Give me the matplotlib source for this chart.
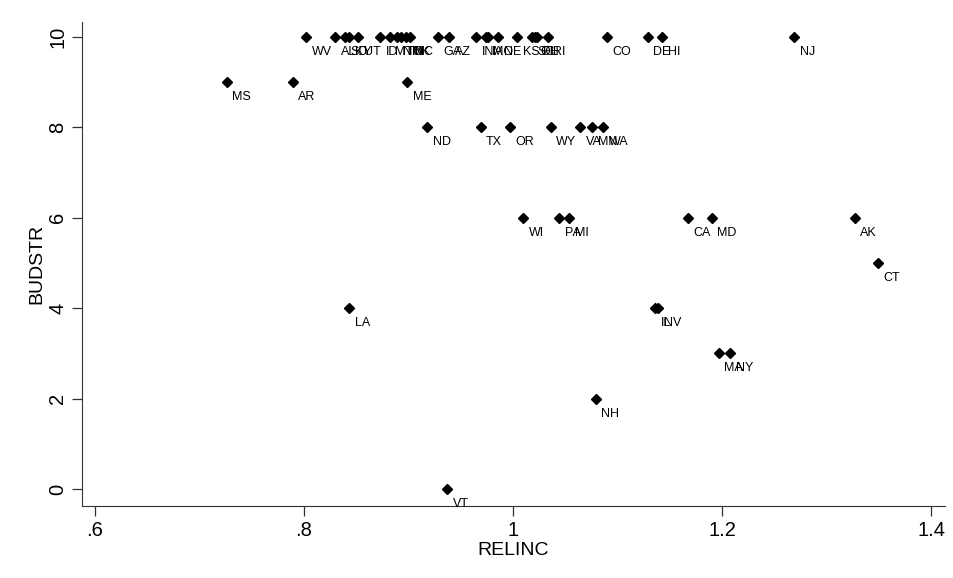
import matplotlib.pyplot as plt
from matplotlib import font_manager

# Data
states = ["WV", "AL", "SD", "KY", "UT", "ID", "MT", "NM", "TN", "OK", "NC",
          "GA", "AZ", "IN", "IA", "MO", "NE", "KS", "SC", "OH", "FL", "RI",
          "CO", "DE", "HI", "NJ",
          "MS", "AR", "ME",
          "ND", "TX", "OR", "WY", "VA", "MN", "WA",
          "WI", "PA", "MI", "CA", "MD", "AK",
          "CT",
          "LA", "IL", "NV",
          "MA", "NY",
          "NH",
          "VT"]
relinc = [0.802, 0.830, 0.839, 0.843, 0.852, 0.873, 0.882, 0.889, 0.893, 0.898, 0.901,
          0.928, 0.939, 0.965, 0.974, 0.976, 0.986, 1.004, 1.018, 1.021, 1.023, 1.033,
          1.090, 1.129, 1.143, 1.269,
          0.726, 0.789, 0.899,
          0.918, 0.969, 0.997, 1.036, 1.064, 1.076, 1.086,
          1.010, 1.044, 1.054, 1.167, 1.190, 1.327,
          1.349,
          0.843, 1.136, 1.139,
          1.197, 1.208,
          1.079,
          0.937]
budstr = [10] * 26 + [9] * 3 + [8] * 7 + [6] * 6 + [5] + [4] * 3 + [3] * 2 + [2] + [0]

xticks = [0.6, 0.8, 1.0, 1.2, 1.4]
xticklabels = [".6", ".8", "1", "1.2", "1.4"]
yticks = [0, 2, 4, 6, 8, 10]

installed = {f.name for f in font_manager.fontManager.ttflist}
family = "Liberation Sans Narrow" if "Liberation Sans Narrow" in installed else "Liberation Sans"
plt.rcParams['font.family'] = [family, 'DejaVu Sans']

fig = plt.figure(figsize=(9.54, 5.78), dpi=100)
ax = fig.add_axes([0.086, 0.1246, 0.9046, 0.8374])

ax.plot(relinc, budstr, linestyle="none", marker="D", markersize=4.8, color="black")
for s, x, y in zip(states, relinc, budstr):
    ax.annotate(s, (x, y), xytext=(4, -6.5), textcoords="offset points",
                ha="left", va="top", fontsize=9)

ax.set_xlim(0.5876, 1.4134)
ax.set_ylim(-0.376, 10.33)
ax.set_xticks(xticks)
ax.set_xticklabels(xticklabels)
ax.set_yticks(yticks)
ax.set_yticklabels([str(v) for v in yticks], rotation=90, va="center")
ax.tick_params(axis="both", direction="out", length=7, width=0.9, labelsize=14.5, color="#333333")
ax.set_xlabel("RELINC", fontsize=14, labelpad=2)
ax.set_ylabel("BUDSTR", fontsize=14, labelpad=2)

ax.spines["top"].set_visible(False)
ax.spines["right"].set_visible(False)
ax.spines["left"].set_color("#333333")
ax.spines["bottom"].set_color("#333333")

fig.savefig("out.png", dpi=100)
